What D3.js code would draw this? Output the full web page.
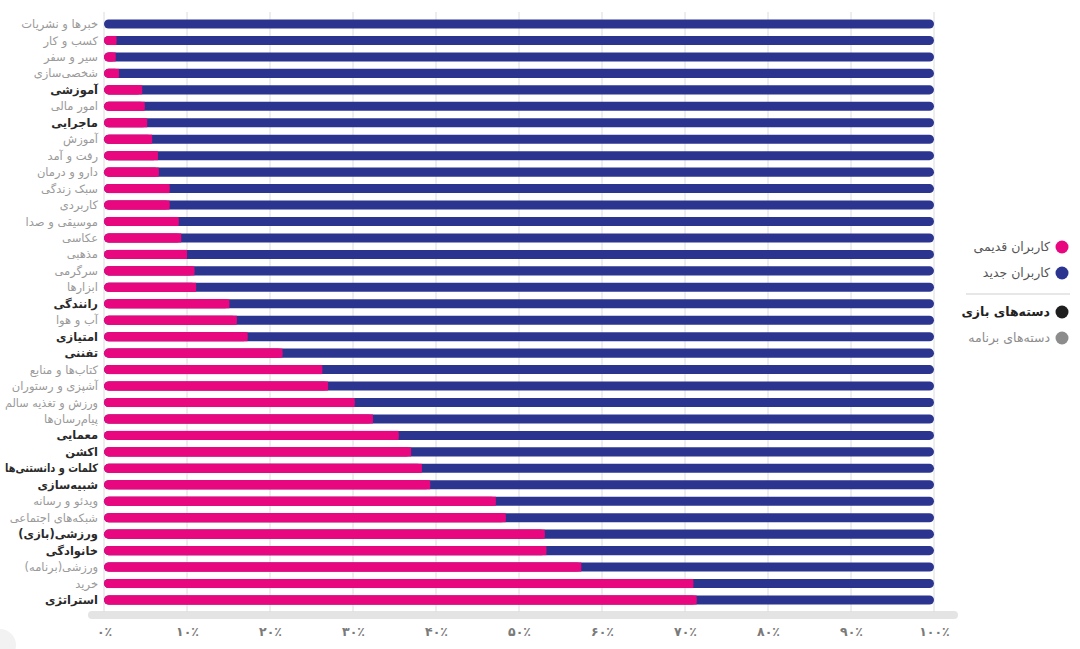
<!DOCTYPE html>
<html><head><meta charset="utf-8">
<script src="https://cdn.jsdelivr.net/npm/d3@7"></script>
<style>
html,body{margin:0;padding:0;background:#fff;}
svg{display:block;font-family:"DejaVu Sans","Noto Sans",sans-serif;}
</style></head>
<body><svg id="c" width="1080" height="649"></svg>
<script>
const categories = ["خبرها و نشریات","کسب و کار","سیر و سفر","شخصی‌سازی","آموزشی","امور مالی","ماجرایی","آموزش","رفت و آمد","دارو و درمان","سبک زندگی","کاربردی","موسیقی و صدا","عکاسی","مذهبی","سرگرمی","ابزارها","رانندگی","آب و هوا","امتیازی","تفننی","کتاب‌ها و منابع","آشپزی و رستوران","ورزش و تغذیه سالم","پیام‌رسان‌ها","معمایی","اکشن","کلمات و دانستنی‌ها","شبیه‌سازی","ویدئو و رسانه","شبکه‌های اجتماعی","ورزشی(بازی)","خانوادگی","ورزشی(برنامه)","خرید","استراتژی"];
const isGame = [0,0,0,0,1,0,1,0,0,0,0,0,0,0,0,0,0,1,0,1,1,0,0,0,0,1,1,1,1,0,0,1,1,0,0,1];
const oldUsers = [0,1.5,1.4,1.8,4.6,4.9,5.2,5.8,6.5,6.6,7.9,7.9,9.0,9.3,10.0,10.9,11.1,15.1,16.0,17.3,21.5,26.3,27.0,30.2,32.4,35.5,37.0,38.3,39.3,47.2,48.4,53.1,53.3,57.5,71.0,71.4];
const newUsers = [100,98.5,98.6,98.2,95.4,95.1,94.8,94.2,93.5,93.4,92.1,92.1,91.0,90.7,90.0,89.1,88.9,84.9,84.0,82.7,78.5,73.7,73.0,69.8,67.6,64.5,63.0,61.7,60.7,52.8,51.6,46.9,46.7,42.5,29.0,28.6];
const tickValues = [0,10,20,30,40,50,60,70,80,90,100];
const tickLabels = ["۰٪","۱۰٪","۲۰٪","۳۰٪","۴۰٪","۵۰٪","۶۰٪","۷۰٪","۸۰٪","۹۰٪","۱۰۰٪"];
const legendItems = ["کاربران قدیمی","کاربران جدید","دسته‌های بازی","دسته‌های برنامه"];

const PINK = "#e8077f", BLUE = "#2b3590";
const svg = d3.select("#c");
const x = d3.scaleLinear().domain([0,100]).range([104,934]);
const y = d3.scaleBand().domain(categories).range([15.8,608.2]).paddingInner(0.45).paddingOuter(0.225);
const h = y.bandwidth();

const rowsData = categories.map((c,i)=>({cat:c, game:isGame[i], old:oldUsers[i], nw:newUsers[i]}));

// bottom track
svg.append("rect").attr("x",88).attr("y",611).attr("width",870).attr("height",8).attr("rx",4).attr("fill","#e4e4e4");

// gridlines
svg.append("g").selectAll("line").data(tickValues).join("line")
  .attr("x1",d=>x(d)).attr("x2",d=>x(d)).attr("y1",12).attr("y2",612)
  .attr("stroke","#dcdcdc").attr("stroke-width",1);

// tick labels via axis
const ax = svg.append("g").attr("transform","translate(0,624)")
  .call(d3.axisBottom(x).tickValues(tickValues).tickFormat((d,i)=>tickLabels[i]).tickSize(0).tickPadding(3));
ax.select(".domain").remove();
ax.selectAll("text").attr("fill","#7a7a7a").attr("font-size",12.5).attr("font-weight","bold")
  .attr("font-family","'DejaVu Sans',sans-serif");

// bars
const rows = svg.append("g").selectAll("g").data(rowsData).join("g");
rows.append("rect").attr("x",x(0)).attr("y",d=>y(d.cat)).attr("height",h)
  .attr("width",d=>x(d.old+d.nw)-x(0)).attr("rx",h/2).attr("fill",BLUE);
const pk = rows.filter(d=>d.old>0);
pk.append("rect").attr("x",x(0)).attr("y",d=>y(d.cat)).attr("height",h)
  .attr("width",d=>Math.max(h,x(d.old)-x(0))).attr("rx",h/2).attr("fill",PINK);
pk.append("rect").attr("x",x(0)+h/2).attr("y",d=>y(d.cat)).attr("height",h)
  .attr("width",d=>Math.max(0,x(d.old)-x(0)-h/2)).attr("fill",PINK);

// category labels
rows.append("text").attr("x",98).attr("y",d=>y(d.cat)+h/2).attr("dy","0.35em")
  .attr("text-anchor","end").attr("font-size",11.5)
  .attr("fill",d=>d.game?"#2a2a2a":"#9a9a9a")
  .attr("font-weight",d=>d.game?"bold":"normal")
  .text(d=>d.cat)
  .each(function(){
    const w = this.getComputedTextLength();
    if (w > 93) d3.select(this).attr("textLength",93).attr("lengthAdjust","spacingAndGlyphs");
  });

// legend
const legY = [247,273,312,338];
const legC = [PINK,BLUE,"#1e1e1e","#8c8c8c"];
const legT = ["#555","#555","#222","#8c8c8c"];
const lg = svg.append("g").selectAll("g").data(legendItems).join("g");
lg.append("circle").attr("cx",1062).attr("cy",(d,i)=>legY[i]).attr("r",6.5).attr("fill",(d,i)=>legC[i]);
lg.append("text").attr("x",1050).attr("y",(d,i)=>legY[i]).attr("dy","0.35em").attr("text-anchor","end")
  .attr("font-size",12.5).attr("fill",(d,i)=>legT[i]).attr("font-weight",(d,i)=>i==2?"bold":"normal").text(d=>d);
svg.append("line").attr("x1",966).attr("x2",1070).attr("y1",294).attr("y2",294).attr("stroke","#cfcfcf").attr("stroke-width",1);

// faint corner circle
svg.append("circle").attr("cx",0).attr("cy",645).attr("r",16).attr("fill","#f2f2f2");
</script></body></html>
